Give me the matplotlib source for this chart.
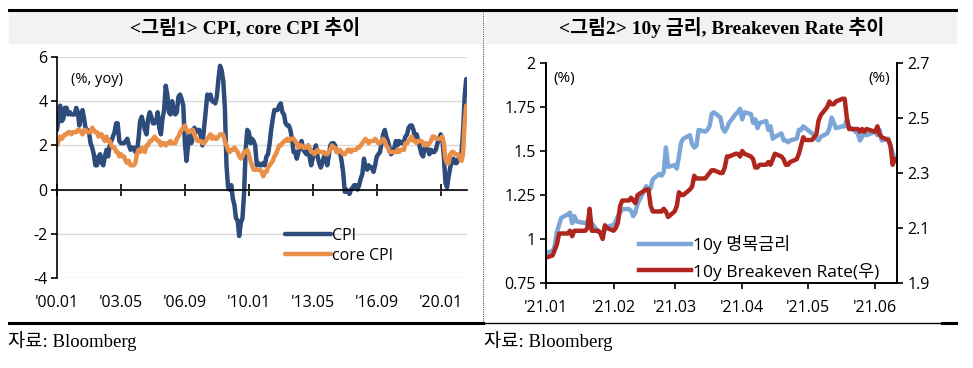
import matplotlib.pyplot as plt
from matplotlib.lines import Line2D
import pandas as pd

plt.rcParams["axes.unicode_minus"] = False

# ===== Data =====
# US CPI / core CPI, % yoy, monthly 2000.01 - 2021.05
cpi = [2.7, 3.2, 3.8, 3.1, 3.2, 3.7, 3.7, 3.4, 3.5, 3.4, 3.4, 3.4,
       3.7, 3.5, 2.9, 3.3, 3.6, 3.2, 2.7, 2.7, 2.6, 2.1, 1.9, 1.6,
       1.1, 1.1, 1.5, 1.6, 1.2, 1.1, 1.5, 1.8, 1.5, 2.0, 2.2, 2.4,
       2.6, 3.0, 3.0, 2.2, 2.1, 2.1, 2.1, 2.2, 2.3, 2.0, 1.8, 1.9,
       1.9, 1.7, 1.7, 2.3, 3.1, 3.3, 3.0, 2.7, 2.5, 3.2, 3.5, 3.3,
       3.0, 3.0, 3.1, 3.5, 2.8, 2.5, 3.2, 3.6, 4.7, 4.3, 3.5, 3.4,
       4.0, 3.6, 3.4, 3.5, 4.2, 4.3, 4.1, 3.8, 2.1, 1.3, 2.0, 2.5,
       2.1, 2.4, 2.8, 2.6, 2.7, 2.7, 2.4, 2.0, 2.8, 3.5, 4.3, 4.1,
       4.3, 4.0, 4.0, 3.9, 4.2, 5.0, 5.6, 5.4, 4.9, 3.7, 1.1, 0.1,
       0.0, 0.2, -0.4, -0.7, -1.3, -1.4, -2.1, -1.5, -1.3, -0.2, 1.8, 2.7,
       2.6, 2.1, 2.3, 2.2, 2.0, 1.1, 1.2, 1.1, 1.1, 1.2, 1.1, 1.5,
       1.6, 2.1, 2.7, 3.2, 3.6, 3.6, 3.6, 3.8, 3.9, 3.5, 3.4, 3.0,
       2.9, 2.9, 2.7, 2.3, 1.7, 1.7, 1.4, 1.7, 2.0, 2.2, 1.8, 1.7,
       1.6, 2.0, 1.5, 1.1, 1.4, 1.8, 2.0, 1.5, 1.2, 1.0, 1.2, 1.5,
       1.6, 1.1, 1.5, 2.0, 2.1, 2.1, 2.0, 1.7, 1.7, 1.7, 1.3, 0.8,
       -0.1, 0.0, -0.1, -0.2, 0.0, 0.1, 0.2, 0.2, 0.0, 0.2, 0.5, 0.7,
       1.4, 1.0, 0.9, 1.1, 1.0, 1.0, 0.8, 1.1, 1.5, 1.6, 1.7, 2.1,
       2.5, 2.7, 2.4, 2.2, 1.9, 1.6, 1.7, 1.9, 2.2, 2.0, 2.2, 2.1,
       2.1, 2.2, 2.4, 2.5, 2.8, 2.9, 2.9, 2.7, 2.3, 2.5, 2.2, 1.9,
       1.6, 1.5, 1.9, 2.0, 1.8, 1.6, 1.8, 1.7, 1.7, 1.8, 2.1, 2.3,
       2.5, 2.3, 1.5, 0.3, 0.1, 0.6, 1.0, 1.3, 1.4, 1.2, 1.2, 1.4,
       1.4, 1.7, 2.6, 4.2, 5.0]
core_cpi = [2.0, 2.2, 2.4, 2.3, 2.4, 2.5, 2.5, 2.6, 2.6, 2.5, 2.6, 2.6,
            2.6, 2.7, 2.7, 2.6, 2.5, 2.7, 2.7, 2.6, 2.6, 2.6, 2.8, 2.7,
            2.6, 2.6, 2.4, 2.5, 2.5, 2.3, 2.2, 2.4, 2.2, 2.2, 2.0, 1.9,
            1.9, 1.7, 1.7, 1.5, 1.6, 1.5, 1.5, 1.3, 1.2, 1.3, 1.1, 1.1,
            1.1, 1.2, 1.6, 1.8, 1.7, 1.9, 1.8, 1.7, 2.0, 2.0, 2.2, 2.2,
            2.3, 2.4, 2.3, 2.2, 2.2, 2.0, 2.1, 2.1, 2.0, 2.1, 2.1, 2.2,
            2.1, 2.1, 2.1, 2.3, 2.4, 2.6, 2.7, 2.8, 2.9, 2.7, 2.6, 2.6,
            2.7, 2.7, 2.5, 2.3, 2.2, 2.2, 2.2, 2.1, 2.1, 2.2, 2.3, 2.4,
            2.5, 2.3, 2.4, 2.3, 2.3, 2.4, 2.5, 2.5, 2.5, 2.2, 2.0, 1.8,
            1.7, 1.8, 1.8, 1.9, 1.8, 1.7, 1.5, 1.4, 1.5, 1.7, 1.7, 1.8,
            1.6, 1.3, 1.1, 0.9, 0.9, 0.9, 0.9, 0.9, 0.8, 0.6, 0.8, 0.8,
            1.0, 1.1, 1.2, 1.3, 1.5, 1.6, 1.8, 2.0, 2.0, 2.1, 2.2, 2.2,
            2.3, 2.2, 2.3, 2.3, 2.3, 2.2, 2.1, 1.9, 2.0, 2.0, 1.9, 1.9,
            1.9, 2.0, 1.9, 1.7, 1.7, 1.6, 1.7, 1.8, 1.7, 1.7, 1.7, 1.7,
            1.6, 1.6, 1.7, 1.8, 2.0, 1.9, 1.9, 1.7, 1.7, 1.8, 1.7, 1.6,
            1.6, 1.7, 1.8, 1.8, 1.7, 1.8, 1.8, 1.8, 1.9, 1.9, 2.0, 2.1,
            2.2, 2.3, 2.2, 2.1, 2.2, 2.2, 2.2, 2.3, 2.2, 2.1, 2.1, 2.2,
            2.3, 2.2, 2.0, 1.9, 1.7, 1.7, 1.7, 1.7, 1.7, 1.8, 1.7, 1.8,
            1.8, 1.8, 2.1, 2.1, 2.2, 2.3, 2.4, 2.2, 2.2, 2.1, 2.2, 2.2,
            2.2, 2.1, 2.0, 2.1, 2.0, 2.1, 2.2, 2.4, 2.4, 2.3, 2.3, 2.3,
            2.3, 2.4, 2.1, 1.4, 1.2, 1.2, 1.6, 1.7, 1.7, 1.6, 1.6, 1.6,
            1.4, 1.3, 1.6, 3.0, 3.8]
months = pd.date_range("2000-01-01", periods=len(cpi), freq="MS")
cpi_ticks = ["2000-01", "2003-05", "2006-09", "2010-01", "2013-05", "2016-09", "2020-01"]
cpi_tick_labels = ["'00.01", "'03.05", "'06.09", "'10.01", "'13.05", "'16.09", "'20.01"]

# 10y UST yield and 10y breakeven, daily 2020-12-31 - 2021-06-10
ust10y = [0.92,
          0.93, 0.96, 1.04, 1.08, 1.12, 1.14, 1.15, 1.09, 1.13, 1.10,
          1.09, 1.10, 1.11, 1.09, 1.04, 1.04, 1.02, 1.05, 1.07,
          1.08, 1.10, 1.13, 1.15, 1.17, 1.17, 1.16, 1.13, 1.15, 1.20,
          1.30, 1.27, 1.29, 1.34, 1.37, 1.36, 1.38, 1.52, 1.41,
          1.42, 1.40, 1.47, 1.55, 1.57, 1.59, 1.54, 1.52, 1.53, 1.62,
          1.61, 1.62, 1.64, 1.71, 1.72, 1.69, 1.63, 1.61, 1.63, 1.66,
          1.71, 1.72, 1.74,
          1.68, 1.72, 1.71, 1.66, 1.68, 1.63, 1.66, 1.67, 1.62, 1.64,
          1.57, 1.58, 1.60, 1.56, 1.56, 1.55, 1.56, 1.57, 1.62, 1.62,
          1.64, 1.63,
          1.60, 1.59, 1.57, 1.56, 1.58, 1.60, 1.63, 1.69, 1.66, 1.63,
          1.64, 1.64, 1.68, 1.63, 1.63, 1.60, 1.56, 1.58, 1.61, 1.59,
          1.61, 1.59, 1.62, 1.56, 1.57, 1.53, 1.49, 1.45]
breakeven = [1.99,
             2.00, 2.02, 2.04, 2.08, 2.08, 2.08, 2.09, 2.07, 2.09, 2.09,
             2.09, 2.10, 2.17, 2.09, 2.09, 2.08, 2.06, 2.11, 2.10,
             2.09, 2.10, 2.12, 2.18, 2.20, 2.20, 2.21, 2.20, 2.19, 2.22,
             2.24, 2.24, 2.18, 2.16, 2.16, 2.16, 2.17, 2.16, 2.14,
             2.16, 2.18, 2.23, 2.22, 2.22, 2.24, 2.25, 2.29, 2.28, 2.28,
             2.28, 2.29, 2.30, 2.31, 2.31, 2.30, 2.30, 2.32, 2.36, 2.36,
             2.37, 2.37, 2.36,
             2.38, 2.37, 2.36, 2.35, 2.32, 2.32, 2.33, 2.33, 2.34, 2.33,
             2.35, 2.37, 2.36, 2.35, 2.33, 2.33, 2.34, 2.35, 2.37, 2.40,
             2.43, 2.42,
             2.42, 2.43, 2.44, 2.49, 2.51, 2.54, 2.56, 2.55, 2.55, 2.56,
             2.57, 2.57, 2.50, 2.46, 2.46, 2.46, 2.45, 2.46, 2.45, 2.46,
             2.45, 2.47, 2.44, 2.43, 2.42, 2.40, 2.33, 2.35]
holidays = ["2021-01-01", "2021-01-18", "2021-02-15", "2021-05-31"]
days = pd.bdate_range("2020-12-31", "2021-06-10")
days = days[~days.isin(pd.to_datetime(holidays))]
rate_ticks = ["2021-01-01", "2021-02-01", "2021-03-01", "2021-04-01", "2021-05-01", "2021-06-01"]
rate_tick_labels = ["'21.01", "'21.02", "'21.03", "'21.04", "'21.05", "'21.06"]

NAVY = "#2D4B7B"
ORANGE = "#EA8F48"
LBLUE = "#7DA6D8"
RED = "#B0261F"
SANS = ["Open Sans", "Noto Sans CJK KR"]
SERIF = ["Liberation Serif", "Noto Sans CJK KR"]
W, H = 973, 368


def fx(px):
    return px / W


def fy(py):
    return 1 - py / H


fig = plt.figure(figsize=(W / 100, H / 100), dpi=100)

# ===== Frame: title bands, rules, divider =====
for x0, x1 in [(9, 481), (486, 956)]:
    fig.patches.append(plt.Rectangle((fx(x0), fy(43)), fx(x1 - x0), 32 / H,
                                     transform=fig.transFigure, color="#F2F2F2", zorder=0))
fig.add_artist(Line2D([fx(9), fx(956)], [fy(10), fy(10)], color="black", lw=2.2))
fig.add_artist(Line2D([fx(9), fx(483)], [fy(323), fy(323)], color="black", lw=2.2))
fig.add_artist(Line2D([fx(483), fx(942)], [fy(323), fy(323)], color="black", lw=1.0))
fig.add_artist(Line2D([fx(942), fx(956)], [fy(323), fy(323)], color="black", lw=2.2))
fig.add_artist(Line2D([fx(483), fx(483)], [fy(11), fy(322)], color="#555555", lw=0.8, ls=(0, (1, 1))))

fig.text(fx(245), fy(27), "<그림1> CPI, core CPI 추이", ha="center", va="center",
         fontsize=14, weight="bold", family=SERIF)
fig.text(fx(722), fy(27), "<그림2> 10y 금리, Breakeven Rate 추이", ha="center", va="center",
         fontsize=14, weight="bold", family=SERIF)
fig.text(fx(8), fy(341), "자료: Bloomberg", ha="left", va="center", fontsize=13.5, family=SERIF)
fig.text(fx(484), fy(341), "자료: Bloomberg", ha="left", va="center", fontsize=13.5, family=SERIF)

# ===== Chart 1: CPI =====
ax = fig.add_axes([fx(57), fy(278), fx(467 - 57), (278 - 57) / H])
ax.plot(months, cpi, color=NAVY, lw=3.2, label="CPI", solid_capstyle="round")
ax.plot(months, core_cpi, color=ORANGE, lw=3.2, label="core CPI", solid_capstyle="round")
ax.set_ylim(-4, 6)
ax.set_yticks([-4, -2, 0, 2, 4, 6])
ax.set_xlim(months[0], months[-1] + pd.Timedelta(days=15))
ax.yaxis.grid(color="#D9D9D9", lw=1)
ax.set_axisbelow(True)
for s in ["top", "right"]:
    ax.spines[s].set_visible(False)
ax.spines["bottom"].set_position(("data", 0))
ax.spines["bottom"].set_linewidth(1.2)
ax.spines["left"].set_linewidth(1.2)
ax.set_xticks(pd.to_datetime(cpi_ticks))
ax.tick_params(axis="x", direction="inout", length=9, width=1.2, labelbottom=False)
ax.tick_params(axis="y", direction="out", length=4, width=1.2, labelsize=11.5, pad=3)
for lab in ax.get_yticklabels():
    lab.set_family(SANS)
for t, lab in zip(pd.to_datetime(cpi_ticks), cpi_tick_labels):
    ax.annotate(lab, xy=(t, 0), xycoords=("data", "axes fraction"), xytext=(0, -12),
                textcoords="offset points", ha="center", va="top", fontsize=11.5, family=SANS)
ax.text(0.035, 0.9, "(%, yoy)", transform=ax.transAxes, fontsize=10.5, family=SANS, va="center")
ax.legend(loc="lower left", bbox_to_anchor=(0.52, 0.0), frameon=False, handlelength=2.9,
          handletextpad=0.1, labelspacing=0.25, prop={"family": SANS, "size": 11.5})

# ===== Chart 2: 10y rate & breakeven =====
ax1 = fig.add_axes([fx(546), fy(283), fx(897 - 546), (283 - 63) / H])
ax2 = ax1.twinx()
ax1.plot(days, ust10y, color=LBLUE, lw=3.2, label="10y 명목금리")
ax2.plot(days, breakeven, color=RED, lw=3.2, label="10y Breakeven Rate(우)")
ax1.set_ylim(0.75, 2)
ax1.set_yticks([0.75, 1, 1.25, 1.5, 1.75, 2])
ax1.set_yticklabels(["0.75", "1", "1.25", "1.5", "1.75", "2"])
ax2.set_ylim(1.9, 2.7)
ax2.set_yticks([1.9, 2.1, 2.3, 2.5, 2.7])
ax1.set_xlim(pd.Timestamp("2021-01-01"), pd.Timestamp("2021-06-11"))
ax1.set_xticks(pd.to_datetime(rate_ticks))
ax1.set_xticklabels(rate_tick_labels)
for a in (ax1, ax2):
    a.spines["top"].set_visible(False)
    for s in ["left", "right", "bottom"]:
        a.spines[s].set_linewidth(1.2)
    a.tick_params(direction="out", length=4, width=1.2, labelsize=11.5)
    for lab in a.get_yticklabels() + a.get_xticklabels():
        lab.set_family(SANS)
ax1.tick_params(axis="x", pad=8)
ax1.text(0.02, 0.93, "(%)", transform=ax1.transAxes, fontsize=11, family=SANS, va="center")
ax1.text(0.98, 0.93, "(%)", transform=ax1.transAxes, fontsize=11, family=SANS, va="center", ha="right")
h1, l1 = ax1.get_legend_handles_labels()
h2, l2 = ax2.get_legend_handles_labels()
ax2.legend(h1 + h2, l1 + l2, loc="lower left", bbox_to_anchor=(0.22, -0.06), frameon=False,
           handlelength=3.0, handletextpad=0.1, labelspacing=0.5, prop={"family": SANS, "size": 12.5})

plt.savefig("out.png", dpi=100)
